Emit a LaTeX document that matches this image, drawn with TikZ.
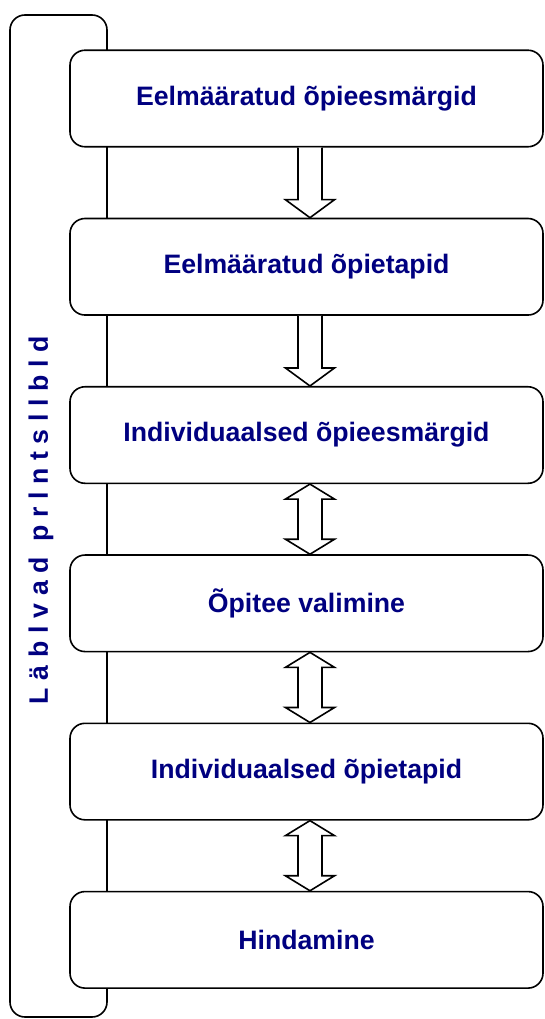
\documentclass[tikz,border=0pt]{standalone}
\usepackage{fontspec}
\setmainfont{Liberation Sans}
\usetikzlibrary{calc,positioning}
\definecolor{labelnavy}{RGB}{0,0,128}
\tikzset{
  stagebox/.style={draw=black,line width=1.2pt,fill=white,rounded corners=11.25pt,
    minimum width=354.75pt,minimum height=72.4pt,inner sep=0pt,
    font=\fontsize{20pt}{24pt}\selectfont\bfseries,text=labelnavy},
  frameline/.style={draw=black,line width=1.2pt,rounded corners=11.25pt},
  blockarrow/.style={draw=black,line width=1.2pt,fill=white,line join=miter}
}
% one-way block arrow between two stages
\newcommand{\onewayarrow}[2]{%
  \draw[blockarrow] ($(#1.south)+(-6.4pt,0)$) -- ($(#2.north)+(-6.4pt,13.5pt)$)
    -- ($(#2.north)+(-15.8pt,13.5pt)$) -- ($(#2.north)+(2.6pt,0)$)
    -- ($(#2.north)+(21pt,13.5pt)$) -- ($(#2.north)+(11.6pt,13.5pt)$)
    -- ($(#1.south)+(11.6pt,0)$);}
% two-way block arrow between two stages
\newcommand{\twowayarrow}[2]{%
  \draw[blockarrow] ($(#1.south)+(2.6pt,0)$) -- ($(#1.south)+(21pt,-11.25pt)$)
    -- ($(#1.south)+(11.6pt,-11.25pt)$) -- ($(#2.north)+(11.6pt,11.25pt)$)
    -- ($(#2.north)+(21pt,11.25pt)$) -- ($(#2.north)+(2.6pt,0)$)
    -- ($(#2.north)+(-15.8pt,11.25pt)$) -- ($(#2.north)+(-6.4pt,11.25pt)$)
    -- ($(#1.south)+(-6.4pt,-11.25pt)$) -- ($(#1.south)+(-15.8pt,-11.25pt)$)
    -- cycle;}

\begin{document}
\begin{tikzpicture}[x=0.75pt,y=-0.75pt,node distance=52.6pt]
\useasboundingbox (0,0) rectangle (544,1019);
    \draw[frameline] (10,15) rectangle (107,1017);
    \node[rotate=90,font=\fontsize{20pt}{24pt}\selectfont\bfseries\addfontfeature{LetterSpace=29},text=labelnavy]
      (principles) at (41,520) {Läblvad prlntsllbld};
    \node[stagebox] (goals) at (306.5,98.5) {Eelmääratud õpieesmärgid};
    \node[stagebox,below=of goals] (steps) {Eelmääratud õpietapid};
    \node[stagebox,below=of steps] (owngoals) {Individuaalsed õpieesmärgid};
    \node[stagebox,below=of owngoals] (path) {Õpitee valimine};
    \node[stagebox,below=of path] (ownsteps) {Individuaalsed õpietapid};
    \node[stagebox,below=of ownsteps] (grading) {Hindamine};
    \onewayarrow{goals}{steps}
    \onewayarrow{steps}{owngoals}
    \twowayarrow{owngoals}{path}
    \twowayarrow{path}{ownsteps}
    \twowayarrow{ownsteps}{grading}
\end{tikzpicture}
\end{document}
